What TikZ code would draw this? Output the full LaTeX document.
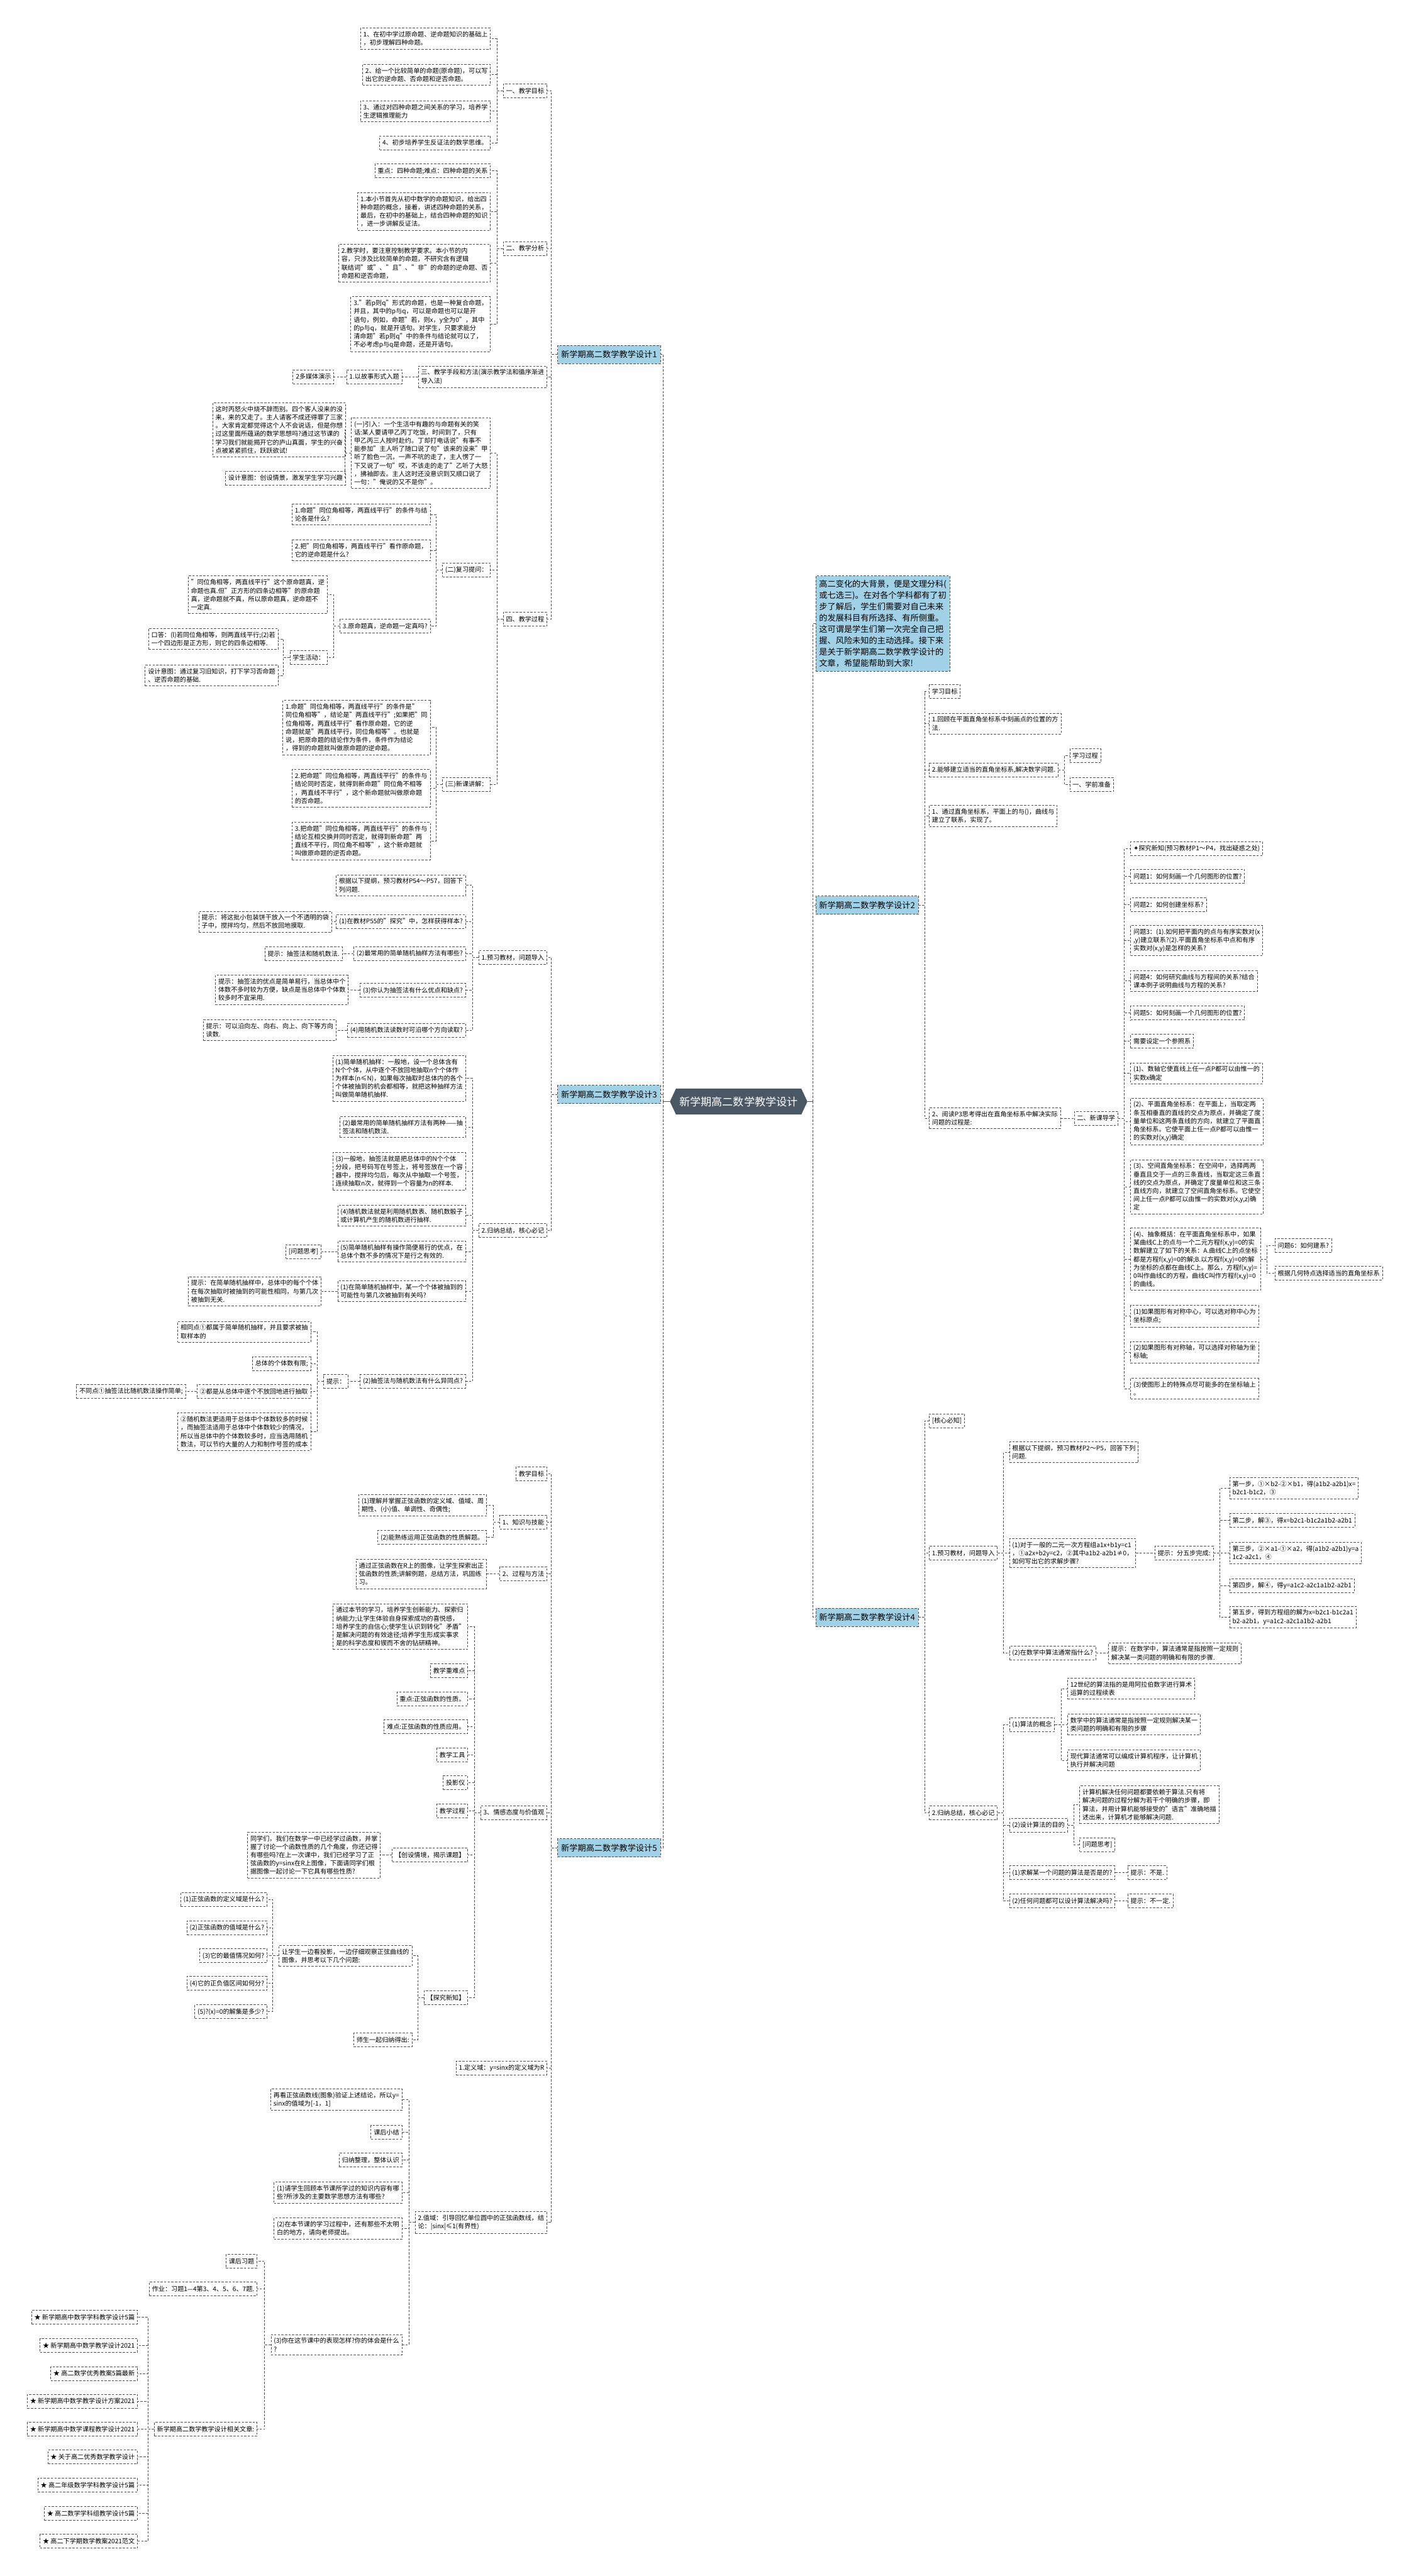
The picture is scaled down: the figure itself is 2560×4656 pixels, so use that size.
\documentclass[tikz,border=0pt]{standalone}
\usepackage{xcolor}
\usepackage{fontspec}
\setmainfont{Noto Sans CJK SC}
\newfontfamily\symfont{DejaVu Sans}
\usepackage{tikz}
\usetikzlibrary{shapes.symbols, positioning}

\definecolor{rootcol}{RGB}{74,88,102}
\definecolor{bluecol}{RGB}{160,209,231}
\definecolor{linecol}{RGB}{80,80,80}

\begin{document}
\begin{tikzpicture}[x=1pt, y=-1pt,
    link/.style={draw=linecol, line width=1pt, dash pattern=on 4pt off 2.5pt},
    leaf/.style={draw=linecol, line width=1pt, dash pattern=on 4pt off 2.5pt, fill=white, align=left,
        inner xsep=5pt, inner ysep=6pt, minimum height=25pt, font=\fontsize{11.5}{15}\selectfont},
    topic/.style={leaf, fill=bluecol, inner xsep=6pt, inner ysep=7pt, minimum height=33pt,
        font=\fontsize{15}{20.5}\selectfont},
    hub/.style={signal, signal to=east and west, signal pointer angle=130, fill=rootcol, text=white,
        inner xsep=6pt, minimum height=47pt, font=\fontsize{19.5}{24}\selectfont}]
    \useasboundingbox (0,0) rectangle (2560,4656);
    \fill [white] (0,0) rectangle (2560,4656);

    % Root
    \node [hub] (root) at (1335,1991) {新学期高二数学教学设计};
    \draw [linecol, line width=1pt] (root.west) -- ++(-12,0);
    \draw [linecol, line width=1pt] (root.east) -- ++(10,0);

    % Design 1
    \node [topic, anchor=east] (d1) at (1194,641) {新学期高二数学教学设计1};
    \node [leaf, anchor=east] (d1a) at (989,164) {一、教学目标};
    \node [leaf, anchor=east] (d1a1) at (887,70) {1、在初中学过原命题、逆命题知识的基础上\\，初步理解四种命题。};
    \node [leaf, anchor=east] (d1a2) at (887,135) {2、给一个比较简单的命题(原命题)，可以写\\出它的逆命题、否命题和逆否命题。};
    \node [leaf, anchor=east] (d1a3) at (887,201) {3、通过对四种命题之间关系的学习，培养学\\生逻辑推理能力};
    \node [leaf, anchor=east] (d1a4) at (887,258) {4、初步培养学生反证法的数学思维。};
    \node [leaf, anchor=east] (d1b) at (989,449) {二、教学分析};
    \node [leaf, anchor=east] (d1b1) at (887,309) {重点：四种命题;难点：四种命题的关系};
    \node [leaf, anchor=east] (d1b2) at (887,382) {1.本小节首先从初中数学的命题知识，给出四\\种命题的概念，接着，讲述四种命题的关系，\\最后，在初中的基础上，结合四种命题的知识\\，进一步讲解反证法。};
    \node [leaf, anchor=east] (d1b3) at (887,476) {2.教学时，要注意控制教学要求。本小节的内\\容，只涉及比较简单的命题，不研究含有逻辑\\联结词"或"、"且"、"非"的命题的逆命题、否\\命题和逆否命题，};
    \node [leaf, anchor=east] (d1b4) at (887,586) {3."若p则q"形式的命题，也是一种复合命题，\\并且，其中的p与q，可以是命题也可以是开\\语句，例如，命题"若，则x，y全为0"，其中\\的p与q，就是开语句。对学生，只要求能分\\清命题"若p则q"中的条件与结论就可以了，\\不必考虑p与q是命题，还是开语句。};
    \node [leaf, anchor=east] (d1c) at (989,681) {三、教学手段和方法(演示教学法和循序渐进\\导入法)};
    \node [leaf, anchor=east] (d1c1) at (727,681) {1.以故事形式入题};
    \node [leaf, anchor=east] (d1c1a) at (604,681) {2多媒体演示};
    \node [leaf, anchor=east] (d1d) at (989,1119) {四、教学过程};
    \node [leaf, anchor=east] (d1d1) at (887,819) {(一)引入：一个生活中有趣的与命题有关的笑\\话:某人要请甲乙丙丁吃饭，时间到了，只有\\甲乙丙三人按时赴约。丁却打电话说"有事不\\能参加"主人听了随口说了句"该来的没来"甲\\听了脸色一沉，一声不吭的走了，主人愣了一\\下又说了一句"哎，不该走的走了"乙听了大怒\\，拂袖即去。主人这时还没意识到又顺口说了\\一句："俺说的又不是你"。};
    \node [leaf, anchor=east] (d1d1a) at (625,777) {这时丙怒火中烧不辞而别。四个客人没来的没\\来，来的又走了。主人请客不成还得罪了三家\\。大家肯定都觉得这个人不会说话，但是你想\\过这里面所蕴涵的数学思想吗?通过这节课的\\学习我们就能揭开它的庐山真面，学生的兴奋\\点被紧紧抓住，跃跃欲试!};
    \node [leaf, anchor=east] (d1d1b) at (625,864) {设计意图：创设情景，激发学生学习兴趣};
    \node [leaf, anchor=east] (d1d2) at (887,1030) {(二)复习提问：};
    \node [leaf, anchor=east] (d1d2a) at (778,930) {1.命题"同位角相等，两直线平行"的条件与结\\论各是什么?};
    \node [leaf, anchor=east] (d1d2b) at (778,995) {2.把"同位角相等，两直线平行"看作原命题，\\它的逆命题是什么?};
    \node [leaf, anchor=east] (d1d2c) at (778,1132) {3.原命题真，逆命题一定真吗?};
    \node [leaf, anchor=east] (d1d2c1) at (592,1075) {"同位角相等，两直线平行"这个原命题真，逆\\命题也真.但"正方形的四条边相等"的原命题\\真，逆命题就不真，所以原命题真，逆命题不\\一定真.};
    \node [leaf, anchor=east] (d1d2c2) at (592,1188) {学生活动：};
    \node [leaf, anchor=east] (d1d2c2a) at (503,1155) {口答：(l)若同位角相等，则两直线平行;(2)若\\一个四边形是正方形，则它的四条边相等.};
    \node [leaf, anchor=east] (d1d2c2b) at (503,1221) {设计意图：通过复习旧知识，打下学习否命题\\、逆否命题的基础.};
    \node [leaf, anchor=east] (d1d3) at (887,1418) {(三)新课讲解：};
    \node [leaf, anchor=east] (d1d3a) at (778,1315) {1.命题"同位角相等，两直线平行"的条件是"\\同位角相等"，结论是"两直线平行";如果把"同\\位角相等，两直线平行"看作原命题，它的逆\\命题就是"两直线平行，同位角相等"。也就是\\说，把原命题的结论作为条件，条件作为结论\\，得到的命题就叫做原命题的逆命题。};
    \node [leaf, anchor=east] (d1d3b) at (778,1425) {2.把命题"同位角相等，两直线平行"的条件与\\结论同时否定，就得到新命题"同位角不相等\\，两直线不平行"，这个新命题就叫做原命题\\的否命题。};
    \node [leaf, anchor=east] (d1d3c) at (778,1520) {3.把命题"同位角相等，两直线平行"的条件与\\结论互相交换并同时否定，就得到新命题"两\\直线不平行，同位角不相等"，这个新命题就\\叫做原命题的逆否命题。};

    \draw [link] ([xshift=-12pt]root.west) |- (d1.east);
    \draw [link] (d1.west) -- ++(-11,0) |- (d1a.east);
    \draw [link] (d1.west) -- ++(-11,0) |- (d1b.east);
    \draw [link] (d1.west) -- ++(-11,0) |- (d1c.east);
    \draw [link] (d1.west) -- ++(-11,0) |- (d1d.east);
    \draw [link] (d1a.west) -- ++(-11,0) |- (d1a1.east);
    \draw [link] (d1a.west) -- ++(-11,0) |- (d1a2.east);
    \draw [link] (d1a.west) -- ++(-11,0) |- (d1a3.east);
    \draw [link] (d1a.west) -- ++(-11,0) |- (d1a4.east);
    \draw [link] (d1b.west) -- ++(-11,0) |- (d1b1.east);
    \draw [link] (d1b.west) -- ++(-11,0) |- (d1b2.east);
    \draw [link] (d1b.west) -- ++(-11,0) |- (d1b3.east);
    \draw [link] (d1b.west) -- ++(-11,0) |- (d1b4.east);
    \draw [link] (d1c.west) -- (d1c1.east);
    \draw [link] (d1c1.west) -- (d1c1a.east);
    \draw [link] (d1d.west) -- ++(-11,0) |- (d1d1.east);
    \draw [link] (d1d.west) -- ++(-11,0) |- (d1d2.east);
    \draw [link] (d1d.west) -- ++(-11,0) |- (d1d3.east);
    \draw [link] (d1d1.west) -- ++(-11,0) |- (d1d1a.east);
    \draw [link] (d1d1.west) -- ++(-11,0) |- (d1d1b.east);
    \draw [link] (d1d2.west) -- ++(-11,0) |- (d1d2a.east);
    \draw [link] (d1d2.west) -- ++(-11,0) |- (d1d2b.east);
    \draw [link] (d1d2.west) -- ++(-11,0) |- (d1d2c.east);
    \draw [link] (d1d2c.west) -- ++(-11,0) |- (d1d2c1.east);
    \draw [link] (d1d2c.west) -- ++(-11,0) |- (d1d2c2.east);
    \draw [link] (d1d2c2.west) -- ++(-11,0) |- (d1d2c2a.east);
    \draw [link] (d1d2c2.west) -- ++(-11,0) |- (d1d2c2b.east);
    \draw [link] (d1d3.west) -- ++(-11,0) |- (d1d3a.east);
    \draw [link] (d1d3.west) -- ++(-11,0) |- (d1d3b.east);
    \draw [link] (d1d3.west) -- ++(-11,0) |- (d1d3c.east);

    % Design 3
    \node [topic, anchor=east] (d3) at (1194,1978) {新学期高二数学教学设计3};
    \node [leaf, anchor=east] (d3a) at (989,1731) {1.预习教材，问题导入};
    \node [leaf, anchor=east] (d3a1) at (842,1600) {根据以下提纲，预习教材P54～P57，回答下\\列问题.};
    \node [leaf, anchor=east] (d3a2) at (842,1666) {(1)在教材P55的"探究"中，怎样获得样本?};
    \node [leaf, anchor=east] (d3a2h) at (600,1666) {提示：将这批小包装饼干放入一个不透明的袋\\子中，搅拌均匀，然后不放回地摸取.};
    \node [leaf, anchor=east] (d3a3) at (842,1724) {(2)最常用的简单随机抽样方法有哪些?};
    \node [leaf, anchor=east] (d3a3h) at (619,1724) {提示：抽签法和随机数法.};
    \node [leaf, anchor=east] (d3a4) at (842,1790) {(3)你认为抽签法有什么优点和缺点?};
    \node [leaf, anchor=east] (d3a4h) at (630,1789) {提示：抽签法的优点是简单易行，当总体中个\\体数不多时较为方便，缺点是当总体中个体数\\较多时不宜采用.};
    \node [leaf, anchor=east] (d3a5) at (842,1862) {(4)用随机数法读数时可沿哪个方向读取?};
    \node [leaf, anchor=east] (d3a5h) at (608,1862) {提示：可以沿向左、向右、向上、向下等方向\\读数.};
    \node [leaf, anchor=east] (d3b) at (989,2224) {2.归纳总结，核心必记};
    \node [leaf, anchor=east] (d3b1) at (842,1949) {(1)简单随机抽样：一般地，设一个总体含有\\N个个体，从中逐个不放回地抽取n个个体作\\为样本(n≤N)，如果每次抽取时总体内的各个\\个体被抽到的机会都相等，就把这种抽样方法\\叫做简单随机抽样.};
    \node [leaf, anchor=east] (d3b2) at (842,2037) {(2)最常用的简单随机抽样方法有两种——抽\\签法和随机数法.};
    \node [leaf, anchor=east] (d3b3) at (842,2117) {(3)一般地，抽签法就是把总体中的N个个体\\分段，把号码写在号签上，将号签放在一个容\\器中，搅拌均匀后，每次从中抽取一个号签，\\连续抽取n次，就得到一个容量为n的样本.};
    \node [leaf, anchor=east] (d3b4) at (842,2197) {(4)随机数法就是利用随机数表、随机数骰子\\或计算机产生的随机数进行抽样.};
    \node [leaf, anchor=east] (d3b5) at (842,2262) {(5)简单随机抽样有操作简便易行的优点，在\\总体个数不多的情况下是行之有效的.};
    \node [leaf, anchor=east] (d3b5q) at (581,2262) {[问题思考]};
    \node [leaf, anchor=east] (d3b6) at (842,2334) {(1)在简单随机抽样中，某一个个体被抽到的\\可能性与第几次被抽到有关吗?};
    \node [leaf, anchor=east] (d3b6h) at (581,2334) {提示：在简单随机抽样中，总体中的每个个体\\在每次抽取时被抽到的可能性相同，与第几次\\被抽到无关.};
    \node [leaf, anchor=east] (d3b7) at (842,2497) {(2)抽签法与随机数法有什么异同点?};
    \node [leaf, anchor=east] (d3b7h) at (630,2497) {提示：};
    \node [leaf, anchor=east] (d3b7h1) at (562,2407) {相同点①都属于简单随机抽样，并且要求被抽\\取样本的};
    \node [leaf, anchor=east] (d3b7h2) at (562,2465) {总体的个体数有限;};
    \node [leaf, anchor=east] (d3b7h3) at (562,2515) {②都是从总体中逐个不放回地进行抽取};
    \node [leaf, anchor=east] (d3b7h3a) at (336,2515) {不同点①抽签法比随机数法操作简单;};
    \node [leaf, anchor=east] (d3b7h4) at (562,2588) {②随机数法更适用于总体中个体数较多的时候\\，而抽签法适用于总体中个体数较少的情况，\\所以当总体中的个体数较多时，应当选用随机\\数法，可以节约大量的人力和制作号签的成本};

    \draw [link] ([xshift=-12pt]root.west) |- (d3.east);
    \draw [link] (d3.west) -- ++(-11,0) |- (d3a.east);
    \draw [link] (d3.west) -- ++(-11,0) |- (d3b.east);
    \draw [link] (d3a.west) -- ++(-11,0) |- (d3a1.east);
    \draw [link] (d3a.west) -- ++(-11,0) |- (d3a2.east);
    \draw [link] (d3a.west) -- ++(-11,0) |- (d3a3.east);
    \draw [link] (d3a.west) -- ++(-11,0) |- (d3a4.east);
    \draw [link] (d3a.west) -- ++(-11,0) |- (d3a5.east);
    \draw [link] (d3a2.west) -- (d3a2h.east);
    \draw [link] (d3a3.west) -- (d3a3h.east);
    \draw [link] (d3a4.west) -- (d3a4h.east);
    \draw [link] (d3a5.west) -- (d3a5h.east);
    \draw [link] (d3b.west) -- ++(-11,0) |- (d3b1.east);
    \draw [link] (d3b.west) -- ++(-11,0) |- (d3b2.east);
    \draw [link] (d3b.west) -- ++(-11,0) |- (d3b3.east);
    \draw [link] (d3b.west) -- ++(-11,0) |- (d3b4.east);
    \draw [link] (d3b.west) -- ++(-11,0) |- (d3b5.east);
    \draw [link] (d3b.west) -- ++(-11,0) |- (d3b6.east);
    \draw [link] (d3b.west) -- ++(-11,0) |- (d3b7.east);
    \draw [link] (d3b5.west) -- (d3b5q.east);
    \draw [link] (d3b6.west) -- (d3b6h.east);
    \draw [link] (d3b7.west) -- (d3b7h.east);
    \draw [link] (d3b7h.west) -- ++(-11,0) |- (d3b7h1.east);
    \draw [link] (d3b7h.west) -- ++(-11,0) |- (d3b7h2.east);
    \draw [link] (d3b7h.west) -- ++(-11,0) |- (d3b7h3.east);
    \draw [link] (d3b7h.west) -- ++(-11,0) |- (d3b7h4.east);
    \draw [link] (d3b7h3.west) -- (d3b7h3a.east);

    % Design 5
    \node [topic, anchor=east] (d5) at (1194,3340) {新学期高二数学教学设计5};
    \node [leaf, anchor=east] (d5a) at (989,2664) {教学目标};
    \node [leaf, anchor=east] (d5b) at (989,2751) {1、知识与技能};
    \node [leaf, anchor=east] (d5b1) at (880,2721) {(1)理解并掌握正弦函数的定义域、值域、周\\期性、(小)值、单调性、奇偶性;};
    \node [leaf, anchor=east] (d5b2) at (880,2779) {(2)能熟练运用正弦函数的性质解题。};
    \node [leaf, anchor=east] (d5c) at (989,2845) {2、过程与方法};
    \node [leaf, anchor=east] (d5c1) at (880,2845) {通过正弦函数在R上的图像，让学生探索出正\\弦函数的性质;讲解例题，总结方法，巩固练\\习。};
    \node [leaf, anchor=east] (d5d) at (989,3276) {3、情感态度与价值观};
    \node [leaf, anchor=east] (d5d1) at (846,2940) {通过本节的学习，培养学生创新能力、探索归\\纳能力;让学生体验自身探索成功的喜悦感，\\培养学生的自信心;使学生认识到转化"矛盾"\\是解决问题的有效途径;培养学生形成实事求\\是的科学态度和锲而不舍的钻研精神。};
    \node [leaf, anchor=east] (d5d2) at (846,3020) {教学重难点};
    \node [leaf, anchor=east] (d5d3) at (846,3071) {重点:正弦函数的性质。};
    \node [leaf, anchor=east] (d5d4) at (846,3121) {难点:正弦函数的性质应用。};
    \node [leaf, anchor=east] (d5d5) at (846,3172) {教学工具};
    \node [leaf, anchor=east] (d5d6) at (846,3222) {投影仪};
    \node [leaf, anchor=east] (d5d7) at (846,3273) {教学过程};
    \node [leaf, anchor=east] (d5d8) at (846,3353) {【创设情境，揭示课题】};
    \node [leaf, anchor=east] (d5d8a) at (688,3353) {同学们，我们在数学一中已经学过函数，并掌\\握了讨论一个函数性质的几个角度，你还记得\\有哪些吗?在上一次课中，我们已经学习了正\\弦函数的y=sinx在R上图像，下面请同学们根\\据图像一起讨论一下它具有哪些性质?};
    \node [leaf, anchor=east] (d5d9) at (846,3611) {【探究新知】};
    \node [leaf, anchor=east] (d5d9a) at (745,3535) {让学生一边看投影，一边仔细观察正弦曲线的\\图像，并思考以下几个问题:};
    \node [leaf, anchor=east] (q1) at (483,3433) {(1)正弦函数的定义域是什么?};
    \node [leaf, anchor=east] (q2) at (483,3484) {(2)正弦函数的值域是什么?};
    \node [leaf, anchor=east] (q3) at (483,3535) {(3)它的最值情况如何?};
    \node [leaf, anchor=east] (q4) at (483,3585) {(4)它的正负值区间如何分?};
    \node [leaf, anchor=east] (q5) at (483,3636) {(5)?(x)=0的解集是多少?};
    \node [leaf, anchor=east] (d5d9b) at (745,3687) {师生一起归纳得出:};
    \node [leaf, anchor=east] (d5e) at (989,3738) {1.定义域：y=sinx的定义域为R};
    \node [leaf, anchor=east] (d5f) at (989,4017) {2.值域：引导回忆单位圆中的正弦函数线，结\\论：|sinx|≤1(有界性)};
    \node [leaf, anchor=east] (d5f1) at (727,3795) {再看正弦函数线(图象)验证上述结论，所以y=\\sinx的值域为[-1，1]};
    \node [leaf, anchor=east] (d5f2) at (727,3854) {课后小结};
    \node [leaf, anchor=east] (d5f3) at (727,3904) {归纳整理，整体认识};
    \node [leaf, anchor=east] (d5f4) at (727,3963) {(1)请学生回顾本节课所学过的知识内容有哪\\些?所涉及的主要数学思想方法有哪些?};
    \node [leaf, anchor=east] (d5f5) at (727,4028) {(2)在本节课的学习过程中，还有那些不太明\\白的地方，请向老师提出。};
    \node [leaf, anchor=east] (d5f6) at (727,4238) {(3)你在这节课中的表现怎样?你的体会是什么\\?};
    \node [leaf, anchor=east] (d5f6a) at (465,4087) {课后习题};
    \node [leaf, anchor=east] (d5f6b) at (465,4137) {作业：习题1—4第3、4、5、6、7题.};
    \node [leaf, anchor=east] (d5f6c) at (465,4391) {新学期高二数学教学设计相关文章:};
    \node [leaf, anchor=east] (r1) at (249,4188) {★ 新学期高中数学学科教学设计5篇};
    \node [leaf, anchor=east] (r2) at (249,4239) {★ 新学期高中数学教学设计2021};
    \node [leaf, anchor=east] (r3) at (249,4290) {★ 高二数学优秀教案5篇最新};
    \node [leaf, anchor=east] (r4) at (249,4340) {★ 新学期高中数学教学设计方案2021};
    \node [leaf, anchor=east] (r5) at (249,4391) {★ 新学期高中数学课程教学设计2021};
    \node [leaf, anchor=east] (r6) at (249,4441) {★ 关于高二优秀数学教学设计};
    \node [leaf, anchor=east] (r7) at (249,4492) {★ 高二年级数学学科教学设计5篇};
    \node [leaf, anchor=east] (r8) at (249,4543) {★ 高二数学学科组教学设计5篇};
    \node [leaf, anchor=east] (r9) at (249,4593) {★ 高二下学期数学教案2021范文};

    \draw [link] ([xshift=-12pt]root.west) |- (d5.east);
    \draw [link] (d5.west) -- ++(-11,0) |- (d5a.east);
    \draw [link] (d5.west) -- ++(-11,0) |- (d5b.east);
    \draw [link] (d5.west) -- ++(-11,0) |- (d5c.east);
    \draw [link] (d5.west) -- ++(-11,0) |- (d5d.east);
    \draw [link] (d5.west) -- ++(-11,0) |- (d5e.east);
    \draw [link] (d5.west) -- ++(-11,0) |- (d5f.east);
    \draw [link] (d5b.west) -- ++(-11,0) |- (d5b1.east);
    \draw [link] (d5b.west) -- ++(-11,0) |- (d5b2.east);
    \draw [link] (d5c.west) -- (d5c1.east);
    \draw [link] (d5d.west) -- ++(-11,0) |- (d5d1.east);
    \draw [link] (d5d.west) -- ++(-11,0) |- (d5d2.east);
    \draw [link] (d5d.west) -- ++(-11,0) |- (d5d3.east);
    \draw [link] (d5d.west) -- ++(-11,0) |- (d5d4.east);
    \draw [link] (d5d.west) -- ++(-11,0) |- (d5d5.east);
    \draw [link] (d5d.west) -- ++(-11,0) |- (d5d6.east);
    \draw [link] (d5d.west) -- ++(-11,0) |- (d5d7.east);
    \draw [link] (d5d.west) -- ++(-11,0) |- (d5d8.east);
    \draw [link] (d5d.west) -- ++(-11,0) |- (d5d9.east);
    \draw [link] (d5d8.west) -- (d5d8a.east);
    \draw [link] (d5d9.west) -- ++(-11,0) |- (d5d9a.east);
    \draw [link] (d5d9.west) -- ++(-11,0) |- (d5d9b.east);
    \draw [link] (d5d9a.west) -- ++(-11,0) |- (q1.east);
    \draw [link] (d5d9a.west) -- ++(-11,0) |- (q2.east);
    \draw [link] (d5d9a.west) -- ++(-11,0) |- (q3.east);
    \draw [link] (d5d9a.west) -- ++(-11,0) |- (q4.east);
    \draw [link] (d5d9a.west) -- ++(-11,0) |- (q5.east);
    \draw [link] (d5f.west) -- ++(-11,0) |- (d5f1.east);
    \draw [link] (d5f.west) -- ++(-11,0) |- (d5f2.east);
    \draw [link] (d5f.west) -- ++(-11,0) |- (d5f3.east);
    \draw [link] (d5f.west) -- ++(-11,0) |- (d5f4.east);
    \draw [link] (d5f.west) -- ++(-11,0) |- (d5f5.east);
    \draw [link] (d5f.west) -- ++(-11,0) |- (d5f6.east);
    \draw [link] (d5f6.west) -- ++(-11,0) |- (d5f6a.east);
    \draw [link] (d5f6.west) -- ++(-11,0) |- (d5f6b.east);
    \draw [link] (d5f6.west) -- ++(-11,0) |- (d5f6c.east);
    \draw [link] (d5f6c.west) -- ++(-11,0) |- (r1.east);
    \draw [link] (d5f6c.west) -- ++(-11,0) |- (r2.east);
    \draw [link] (d5f6c.west) -- ++(-11,0) |- (r3.east);
    \draw [link] (d5f6c.west) -- ++(-11,0) |- (r4.east);
    \draw [link] (d5f6c.west) -- ++(-11,0) |- (r5.east);
    \draw [link] (d5f6c.west) -- ++(-11,0) |- (r6.east);
    \draw [link] (d5f6c.west) -- ++(-11,0) |- (r7.east);
    \draw [link] (d5f6c.west) -- ++(-11,0) |- (r8.east);
    \draw [link] (d5f6c.west) -- ++(-11,0) |- (r9.east);

    % Intro and design 2
    \node [topic, anchor=west] (intro) at (1474,1127) {高二变化的大背景，便是文理分科(\\或七选三)。在对各个学科都有了初\\步了解后，学生们需要对自己未来\\的发展科目有所选择、有所侧重。\\这可谓是学生们第一次完全自己把\\握、风险未知的主动选择。接下来\\是关于新学期高二数学教学设计的\\文章，希望能帮助到大家!};
    \node [topic, anchor=west] (d2) at (1474,1636) {新学期高二数学教学设计2};
    \node [leaf, anchor=west] (d2a) at (1679,1250) {学习目标};
    \node [leaf, anchor=west] (d2b) at (1679,1308) {1.回顾在平面直角坐标系中刻画点的位置的方\\法.};
    \node [leaf, anchor=west] (d2c) at (1679,1392) {2.能够建立适当的直角坐标系,解决数学问题.};
    \node [leaf, anchor=west] (d2c1) at (1933,1366) {学习过程};
    \node [leaf, anchor=west] (d2c2) at (1933,1418) {一、学前准备};
    \node [leaf, anchor=west] (d2d) at (1679,1475) {1、通过直角坐标系，平面上的与()，曲线与\\建立了联系，实现了。};
    \node [leaf, anchor=west] (d2e) at (1679,2021) {2、阅读P3思考得出在直角坐标系中解决实际\\问题的过程是:};
    \node [leaf, anchor=west] (d2e1) at (1941,2021) {二、新课导学};
    \node [leaf, anchor=west] (n1) at (2043,1534) {{\symfont ✦}探究新知(预习教材P1～P4，找出疑惑之处)};
    \node [leaf, anchor=west] (n2) at (2043,1584) {问题1：如何刻画一个几何图形的位置?};
    \node [leaf, anchor=west] (n3) at (2043,1635) {问题2：如何创建坐标系?};
    \node [leaf, anchor=west] (n4) at (2043,1700) {问题3：(1).如何把平面内的点与有序实数对(x\\,y)建立联系?(2).平面直角坐标系中点和有序\\实数对(x,y)是怎样的关系?};
    \node [leaf, anchor=west] (n5) at (2043,1773) {问题4：如何研究曲线与方程间的关系?结合\\课本例子说明曲线与方程的关系?};
    \node [leaf, anchor=west] (n6) at (2043,1831) {问题5：如何刻画一个几何图形的位置?};
    \node [leaf, anchor=west] (n7) at (2043,1882) {需要设定一个参照系};
    \node [leaf, anchor=west] (n8) at (2043,1940) {(1)、数轴它使直线上任一点P都可以由惟一的\\实数x确定};
    \node [leaf, anchor=west] (n9) at (2043,2027) {(2)、平面直角坐标系：在平面上，当取定两\\条互相垂直的直线的交点为原点，并确定了度\\量单位和这两条直线的方向，就建立了平面直\\角坐标系。它使平面上任一点P都可以由惟一\\的实数对(x,y)确定};
    \node [leaf, anchor=west] (n10) at (2043,2145) {(3)、空间直角坐标系：在空间中，选择两两\\垂直且交于一点的三条直线，当取定这三条直\\线的交点为原点，并确定了度量单位和这三条\\直线方向，就建立了空间直角坐标系。它使空\\间上任一点P都可以由惟一的实数对(x,y,z)确\\定};
    \node [leaf, anchor=west] (n11) at (2043,2276) {(4)、抽象概括：在平面直角坐标系中，如果\\某曲线C上的点与一个二元方程f(x,y)=0的实\\数解建立了如下的关系：A.曲线C上的点坐标\\都是方程f(x,y)=0的解;B.以方程f(x,y)=0的解\\为坐标的点都在曲线C上。那么，方程f(x,y)=\\0叫作曲线C的方程，曲线C叫作方程f(x,y)=0\\的曲线。};
    \node [leaf, anchor=west] (n11a) at (2304,2251) {问题6：如何建系?};
    \node [leaf, anchor=west] (n11b) at (2304,2301) {根据几何特点选择适当的直角坐标系};
    \node [leaf, anchor=west] (n12) at (2043,2379) {(1)如果图形有对称中心，可以选对称中心为\\坐标原点;};
    \node [leaf, anchor=west] (n13) at (2043,2444) {(2)如果图形有对称轴，可以选择对称轴为坐\\标轴;};
    \node [leaf, anchor=west] (n14) at (2043,2510) {(3)使图形上的特殊点尽可能多的在坐标轴上\\。};

    \draw [link] ([xshift=10pt]root.east) |- (intro.west);
    \draw [link] ([xshift=10pt]root.east) |- (d2.west);
    \draw [link] (d2.east) -- ++(11,0) |- (d2a.west);
    \draw [link] (d2.east) -- ++(11,0) |- (d2b.west);
    \draw [link] (d2.east) -- ++(11,0) |- (d2c.west);
    \draw [link] (d2.east) -- ++(11,0) |- (d2d.west);
    \draw [link] (d2.east) -- ++(11,0) |- (d2e.west);
    \draw [link] (d2c.east) -- ++(11,0) |- (d2c1.west);
    \draw [link] (d2c.east) -- ++(11,0) |- (d2c2.west);
    \draw [link] (d2e.east) -- (d2e1.west);
    \draw [link] (d2e1.east) -- ++(11,0) |- (n1.west);
    \draw [link] (d2e1.east) -- ++(11,0) |- (n2.west);
    \draw [link] (d2e1.east) -- ++(11,0) |- (n3.west);
    \draw [link] (d2e1.east) -- ++(11,0) |- (n4.west);
    \draw [link] (d2e1.east) -- ++(11,0) |- (n5.west);
    \draw [link] (d2e1.east) -- ++(11,0) |- (n6.west);
    \draw [link] (d2e1.east) -- ++(11,0) |- (n7.west);
    \draw [link] (d2e1.east) -- ++(11,0) |- (n8.west);
    \draw [link] (d2e1.east) -- ++(11,0) |- (n9.west);
    \draw [link] (d2e1.east) -- ++(11,0) |- (n10.west);
    \draw [link] (d2e1.east) -- ++(11,0) |- (n11.west);
    \draw [link] (d2e1.east) -- ++(11,0) |- (n12.west);
    \draw [link] (d2e1.east) -- ++(11,0) |- (n13.west);
    \draw [link] (d2e1.east) -- ++(11,0) |- (n14.west);
    \draw [link] (n11.east) -- ++(11,0) |- (n11a.west);
    \draw [link] (n11.east) -- ++(11,0) |- (n11b.west);

    % Design 4
    \node [topic, anchor=west] (d4) at (1474,2923) {新学期高二数学教学设计4};
    \node [leaf, anchor=west] (d4a) at (1679,2568) {[核心必知]};
    \node [leaf, anchor=west] (d4b) at (1679,2807) {1.预习教材，问题导入};
    \node [leaf, anchor=west] (d4b1) at (1824,2625) {根据以下提纲，预习教材P2～P5，回答下列\\问题.};
    \node [leaf, anchor=west] (d4b2) at (1824,2807) {(1)对于一般的二元一次方程组a1x+b1y=c1\\，①a2x+b2y=c2，②其中a1b2-a2b1≠0，\\如何写出它的求解步骤?};
    \node [leaf, anchor=west] (d4b2h) at (2087,2807) {提示：分五步完成:};
    \node [leaf, anchor=west] (s1) at (2222,2690) {第一步，①×b2-②×b1，得(a1b2-a2b1)x=\\b2c1-b1c2，③};
    \node [leaf, anchor=west] (s2) at (2222,2748) {第二步，解③，得x=b2c1-b1c2a1b2-a2b1};
    \node [leaf, anchor=west] (s3) at (2222,2807) {第三步，②×a1-①×a2，得(a1b2-a2b1)y=a\\1c2-a2c1，④};
    \node [leaf, anchor=west] (s4) at (2222,2866) {第四步，解④，得y=a1c2-a2c1a1b2-a2b1};
    \node [leaf, anchor=west] (s5) at (2222,2923) {第五步，得到方程组的解为x=b2c1-b1c2a1\\b2-a2b1，y=a1c2-a2c1a1b2-a2b1};
    \node [leaf, anchor=west] (d4b3) at (1824,2988) {(2)在数学中算法通常指什么?};
    \node [leaf, anchor=west] (d4b3h) at (2003,2988) {提示：在数学中，算法通常是指按照一定规则\\解决某一类问题的明确和有限的步骤.};
    \node [leaf, anchor=west] (d4c) at (1679,3277) {2.归纳总结，核心必记};
    \node [leaf, anchor=west] (d4c1) at (1824,3117) {(1)算法的概念};
    \node [leaf, anchor=west] (d4c1a) at (1929,3052) {12世纪的算法指的是用阿拉伯数字进行算术\\运算的过程续表};
    \node [leaf, anchor=west] (d4c1b) at (1929,3117) {数学中的算法通常是指按照一定规则解决某一\\类问题的明确和有限的步骤};
    \node [leaf, anchor=west] (d4c1c) at (1929,3182) {现代算法通常可以编成计算机程序，让计算机\\执行并解决问题};
    \node [leaf, anchor=west] (d4c2) at (1824,3299) {(2)设计算法的目的};
    \node [leaf, anchor=west] (d4c2a) at (1951,3262) {计算机解决任何问题都要依赖于算法.只有将\\解决问题的过程分解为若干个明确的步骤，即\\算法，并用计算机能够接受的"语言"准确地描\\述出来，计算机才能够解决问题.};
    \node [leaf, anchor=west] (d4c2b) at (1951,3334) {[问题思考]};
    \node [leaf, anchor=west] (d4c3) at (1824,3385) {(1)求解某一个问题的算法是否是的?};
    \node [leaf, anchor=west] (d4c3h) at (2038,3385) {提示：不是.};
    \node [leaf, anchor=west] (d4c4) at (1824,3436) {(2)任何问题都可以设计算法解决吗?};
    \node [leaf, anchor=west] (d4c4h) at (2038,3436) {提示：不一定.};

    \draw [link] ([xshift=10pt]root.east) |- (d4.west);
    \draw [link] (d4.east) -- ++(11,0) |- (d4a.west);
    \draw [link] (d4.east) -- ++(11,0) |- (d4b.west);
    \draw [link] (d4.east) -- ++(11,0) |- (d4c.west);
    \draw [link] (d4b.east) -- ++(11,0) |- (d4b1.west);
    \draw [link] (d4b.east) -- ++(11,0) |- (d4b2.west);
    \draw [link] (d4b.east) -- ++(11,0) |- (d4b3.west);
    \draw [link] (d4b2.east) -- (d4b2h.west);
    \draw [link] (d4b2h.east) -- ++(11,0) |- (s1.west);
    \draw [link] (d4b2h.east) -- ++(11,0) |- (s2.west);
    \draw [link] (d4b2h.east) -- ++(11,0) |- (s3.west);
    \draw [link] (d4b2h.east) -- ++(11,0) |- (s4.west);
    \draw [link] (d4b2h.east) -- ++(11,0) |- (s5.west);
    \draw [link] (d4b3.east) -- (d4b3h.west);
    \draw [link] (d4c.east) -- ++(11,0) |- (d4c1.west);
    \draw [link] (d4c.east) -- ++(11,0) |- (d4c2.west);
    \draw [link] (d4c.east) -- ++(11,0) |- (d4c3.west);
    \draw [link] (d4c.east) -- ++(11,0) |- (d4c4.west);
    \draw [link] (d4c1.east) -- ++(11,0) |- (d4c1a.west);
    \draw [link] (d4c1.east) -- ++(11,0) |- (d4c1b.west);
    \draw [link] (d4c1.east) -- ++(11,0) |- (d4c1c.west);
    \draw [link] (d4c2.east) -- ++(11,0) |- (d4c2a.west);
    \draw [link] (d4c2.east) -- ++(11,0) |- (d4c2b.west);
    \draw [link] (d4c3.east) -- (d4c3h.west);
    \draw [link] (d4c4.east) -- (d4c4h.west);

\end{tikzpicture}
\end{document}
